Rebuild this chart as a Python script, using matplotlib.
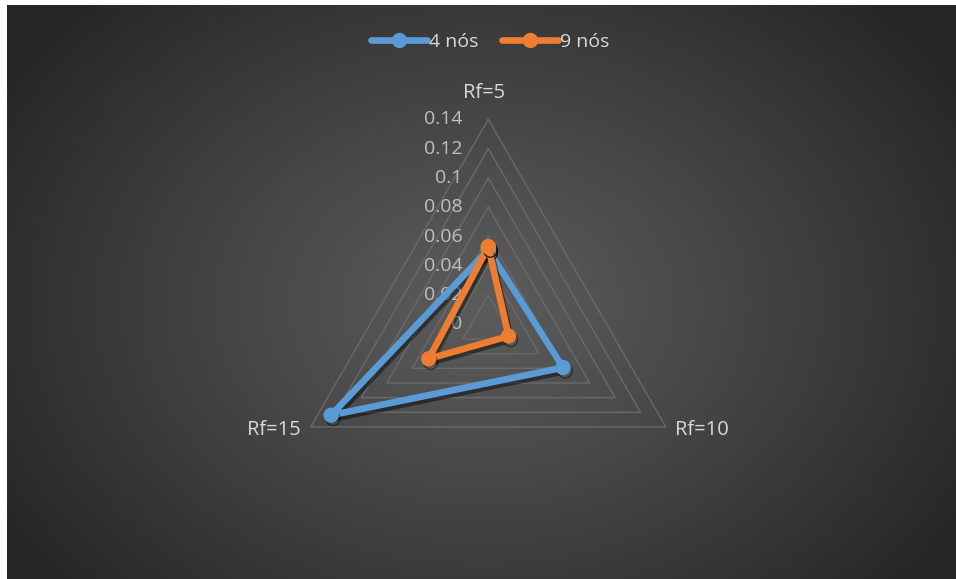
import numpy as np
import matplotlib
matplotlib.use("Agg")
import matplotlib.pyplot as plt
import matplotlib.patheffects as pe
from matplotlib.lines import Line2D

# Data
categories = ["Rf=5", "Rf=10", "Rf=15"]
series_names = ["4 nós", "9 nós"]
values_4_nos = [0.051, 0.059, 0.124]
values_9_nos = [0.053, 0.016, 0.047]
tick_values = [0, 0.02, 0.04, 0.06, 0.08, 0.1, 0.12, 0.14]
tick_labels = ["0", "0.02", "0.04", "0.06", "0.08", "0.1", "0.12", "0.14"]

series_colors = ["#5B9BD5", "#ED7D31"]
text_color = "#d9d9d9"
tick_color = "#bfbfbf"
grid_color = "#6a6a6a"

plt.rcParams["font.family"] = ["Open Sans", "DejaVu Sans"]

W, H, DPI = 956, 579, 100
fig = plt.figure(figsize=(W / DPI, H / DPI), dpi=DPI, facecolor="white")

# Dark background panel with a soft radial shading
bg = fig.add_axes([7 / W, -0.02, 1.02 - 7 / W, 1.02 - 5 / H])
bh, bw = 590, 970
yy, xx = np.mgrid[0:bh, 0:bw]
d = np.sqrt(((xx - 475) / 560.0) ** 2 + ((yy - 300) / 430.0) ** 2)
d = np.clip(d, 0, 1)
shade = 0.36 - (0.36 - 0.15) * d ** 1.1
bg.imshow(np.dstack([shade] * 3), aspect="auto", interpolation="bilinear")
bg.set_axis_off()

# Radar axes (radius 205 px, centred at 488,324)
cx, cy, R = 488.3, 324.4, 205.0
ax = fig.add_axes([(cx - R) / W, (H - cy - R) / H, 2 * R / W, 2 * R / H],
                  projection="polar")
ax.set_facecolor("none")
ax.set_theta_zero_location("N")
ax.set_theta_direction(-1)
ax.set_ylim(0, tick_values[-1])
ax.set_axis_off()

n = len(categories)
theta = np.arange(n) * 2 * np.pi / n
theta_closed = np.append(theta, theta[0])

# Triangular grid rings
for v in tick_values[1:]:
    ax.plot(theta_closed, [v] * (n + 1), color=grid_color, lw=1.0,
            clip_on=False, zorder=1)

# Value labels along the vertical axis
for v, lbl in zip(tick_values, tick_labels):
    ax.annotate(lbl, xy=(0, v), xytext=(-18.5, 0), textcoords="offset points",
                ha="right", va="center", color=tick_color, fontsize=14,
                annotation_clip=False, zorder=2)

# Category labels at the outer vertices
label_offsets = [((-3, 19), "center"), ((6.5, -2), "left"), ((-7, -2), "right")]
for t, cat, (off, ha) in zip(theta, categories, label_offsets):
    ax.annotate(cat, xy=(t, tick_values[-1]), xytext=off,
                textcoords="offset points", ha=ha, va="center",
                color=text_color, fontsize=14.5, annotation_clip=False)

shadow = [pe.SimpleLineShadow(offset=(1.5, -2.5), shadow_color="black", alpha=0.45),
          pe.Normal()]

handles = []
for vals, name, col in zip([values_4_nos, values_9_nos], series_names, series_colors):
    vc = np.append(vals, vals[0])
    ax.plot(theta_closed, vc, color=col, lw=4.8, marker="o", ms=10,
            solid_joinstyle="round", clip_on=False, zorder=3,
            path_effects=shadow)
    handles.append(Line2D([], [], color=col, lw=4.8, marker="o", ms=10,
                          solid_capstyle="round"))

fig.legend(handles, series_names, loc="center",
           bbox_to_anchor=(490 / W, 1 - 42 / H), ncol=2, frameon=False,
           labelcolor=text_color, fontsize=14, handlelength=2.9,
           handletextpad=0.1, columnspacing=1.2)

fig.savefig("out.png", dpi=DPI, facecolor="white")
